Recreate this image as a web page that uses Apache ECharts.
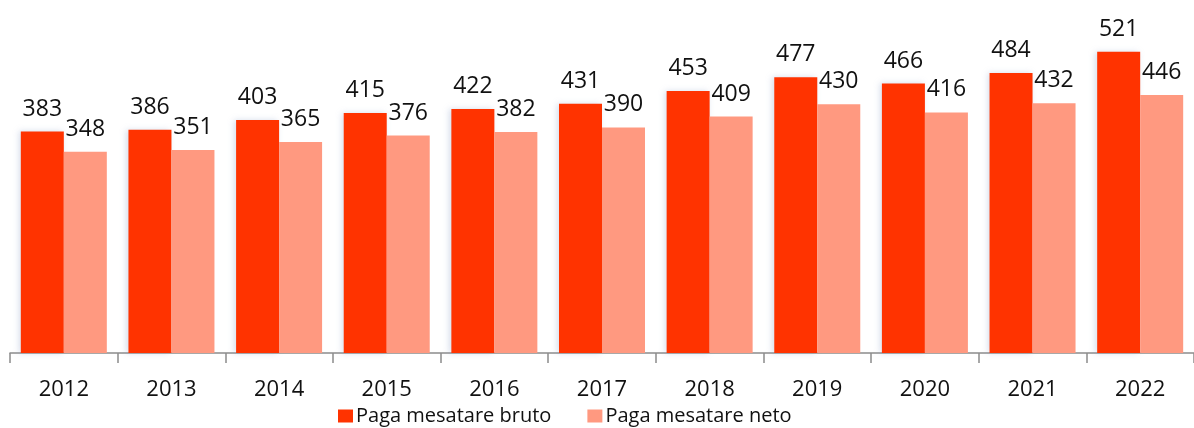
<!DOCTYPE html>
<html>
<head>
<meta charset="utf-8">
<script src="https://cdn.jsdelivr.net/npm/echarts@6/dist/echarts.min.js"></script>
<style>
  html, body { margin: 0; padding: 0; background: #fff; }
  #main { width: 1194px; height: 428px; }
</style>
</head>
<body>
<div id="main"></div>
<script>
const years = ['2012', '2013', '2014', '2015', '2016', '2017', '2018', '2019', '2020', '2021', '2022'];
const bruto = [383, 386, 403, 415, 422, 431, 453, 477, 466, 484, 521];
const neto = [348, 351, 365, 376, 382, 390, 409, 430, 416, 432, 446];

const chart = echarts.init(document.getElementById('main'));

const labelStyle = {
  show: true,
  position: 'top',
  distance: 11,
  color: '#111',
  fontSize: 23,
  fontFamily: 'Open Sans'
};

const options = {
  animation: false,
  backgroundColor: '#fff',
  grid: { left: 10, top: 6, bottom: 75, width: 1195 },
  legend: {
    left: 333,
    top: 401,
    itemWidth: 15,
    itemHeight: 13,
    itemGap: 36,
    icon: 'rect',
    textStyle: { fontSize: 20, fontFamily: 'Open Sans', color: '#111', padding: [0, 0, 0, -2] },
    data: ['Paga mesatare bruto', 'Paga mesatare neto']
  },
  xAxis: {
    type: 'category',
    data: years,
    axisLine: { lineStyle: { color: '#8c8c8c', width: 1.5 } },
    axisTick: { show: true, length: 10, lineStyle: { color: '#8c8c8c', width: 1.5 } },
    axisLabel: { margin: 26, fontSize: 22, fontFamily: 'Open Sans', color: '#111' }
  },
  yAxis: {
    type: 'value',
    min: 0,
    max: 600,
    show: false,
    splitLine: { show: false }
  },
  series: [
    {
      name: 'Paga mesatare bruto',
      type: 'bar',
      data: bruto,
      barWidth: 43,
      barGap: '0%',
      itemStyle: { color: '#ff3300', shadowColor: 'rgba(140,160,200,0.35)', shadowBlur: 6, shadowOffsetX: -2 },
      label: labelStyle
    },
    {
      name: 'Paga mesatare neto',
      type: 'bar',
      data: neto,
      barWidth: 43,
      itemStyle: { color: '#ff9980' },
      label: labelStyle
    }
  ]
};

chart.setOption(options);
</script>
</body>
</html>
